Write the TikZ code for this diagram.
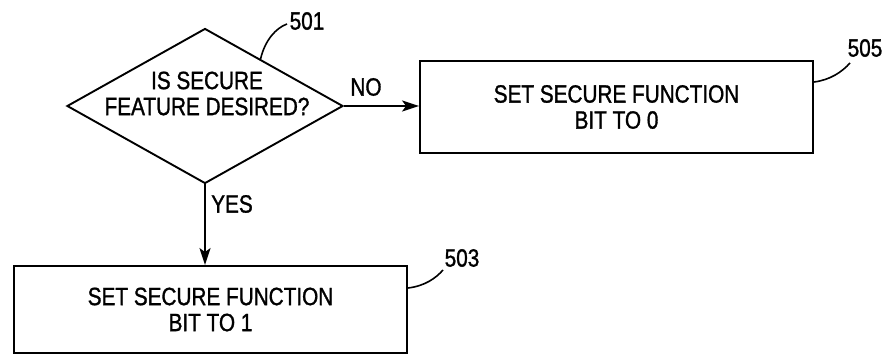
\documentclass[tikz,border=0pt]{standalone}
\usepackage{fontspec}
\setmainfont{Liberation Sans}[FakeStretch=0.83,FakeBold=1.2]
\usetikzlibrary{shapes.geometric,arrows.meta,calc}

\begin{document}
\begin{tikzpicture}[x=1pt,y=-1pt,
  every node/.style={font=\fontsize{25}{26}\selectfont, inner sep=0pt},
  stepbox/.style={draw, rectangle, line width=1.9pt, align=center},
  decision/.style={draw, diamond, line width=1.9pt, minimum width=276pt, minimum height=155pt},
  flowline/.style={line width=1.9pt, -{Stealth[length=17pt,width=11pt,inset=4pt]}},
  leader/.style={line width=1.6pt},
  tag/.style={anchor=center}
]
\useasboundingbox (0,0) rectangle (885,355);

% decision and its wording
\node[decision] (q) at (205,106) {};
\node[align=center] (qt) at (207,93.5) {IS SECURE\\FEATURE DESIRED?};

% action boxes
\node[stepbox, minimum width=393pt, minimum height=92pt] (b505) at (616.5,107)
  {SET SECURE FUNCTION\\BIT TO 0};
\node[stepbox, minimum width=393pt, minimum height=87pt] (b503) at (210.5,309.5)
  {SET SECURE FUNCTION\\BIT TO 1};

% branches
\draw[flowline] (q.east) -- (q.east -| b505.west);
\draw[flowline] (q.south) -- (q.south |- b503.north);
\node (no) at (366,87) {NO};
\node (yes) at (232,204) {YES};

% reference numerals
\node[tag] (l501) at (307,21) {501};
\node[tag] (l505) at (865,48) {505};
\node[tag] (l503) at (462,258) {503};

\coordinate (e501) at (287,24);
\coordinate (e505) at (850,63);
\coordinate (e503) at (443,270);

\draw[leader] ($(q.north)!0.4!(q.east)$) .. controls (265,40) and (276,28) .. (e501);
\draw[leader] ([yshift=25pt]b505.east) .. controls (830,80) and (842,72) .. (e505);
\draw[leader] ([yshift=21.5pt]b503.east) .. controls (425,286) and (436,278) .. (e503);
\end{tikzpicture}
\end{document}
